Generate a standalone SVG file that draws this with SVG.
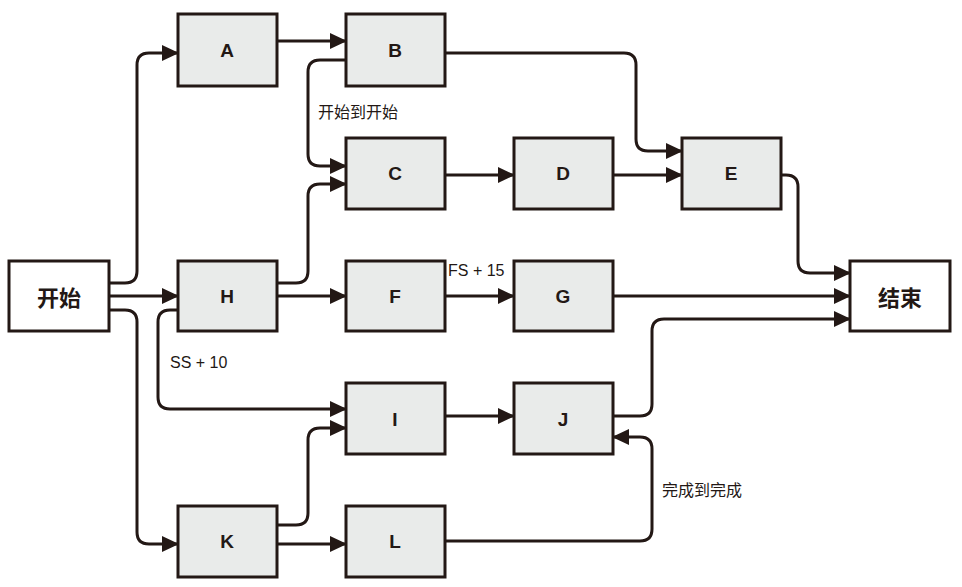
<svg xmlns="http://www.w3.org/2000/svg" width="962" height="587" viewBox="0 0 962 587">
<style>
.n{fill:#e9ebea;stroke:#231815;stroke-width:3}
.w{fill:#fff;stroke:#231815;stroke-width:3}
.t{font-family:"Liberation Sans",Arial,sans-serif;font-weight:bold;font-size:19px;fill:#231815;text-anchor:middle;dominant-baseline:central}
.z{font-family:"Noto Sans CJK SC",sans-serif;font-weight:bold;font-size:22px;fill:#231815;text-anchor:middle;dominant-baseline:central}
.l{font-family:"Liberation Sans","Noto Sans CJK SC",sans-serif;font-size:16px;fill:#231815}
.c path{fill:none;stroke:#231815;stroke-width:3;marker-end:url(#a)}
</style>
<defs><marker id="a" markerUnits="userSpaceOnUse" markerWidth="18" markerHeight="16" refX="16" refY="8" orient="auto"><path d="M0,0L17,8L0,16Z" fill="#231815"/></marker></defs>
<g class="c">
<path d="M109,283H125Q137,283 137,271V65Q137,53 149,53H178"/>
<path d="M109,296H178"/>
<path d="M109,310H125Q137,310 137,322V532Q137,544 149,544H178"/>
<path d="M277,41H346"/>
<path d="M346,60H320Q308,60 308,72V154Q308,166 320,166H346"/>
<path d="M277,283H296Q308,283 308,271V196Q308,184 320,184H346"/>
<path d="M277,296H346"/>
<path d="M178,310H170Q158,310 158,322V397Q158,409 170,409H346"/>
<path d="M445,53H624Q636,53 636,65V139Q636,151 648,151H682"/>
<path d="M445,175H514"/>
<path d="M613,175H682"/>
<path d="M781,175H786Q798,175 798,187V261Q798,273 810,273H850"/>
<path d="M445,296H514"/>
<path d="M613,296H850"/>
<path d="M613,416H640Q652,416 652,404V331Q652,319 664,319H850"/>
<path d="M445,416H514"/>
<path d="M277,525H296Q308,525 308,513V440Q308,428 320,428H346"/>
<path d="M277,544H346"/>
<path d="M445,541H640Q652,541 652,529V449Q652,437 640,437H613"/>
</g>
<g id="start"><rect class="w" x="9" y="261" width="100" height="70"/><text class="z" x="59" y="296">开始</text></g>
<g id="end"><rect class="w" x="850" y="261" width="100" height="70"/><text class="z" x="900" y="296">结束</text></g>
<g id="A"><rect class="n" x="178" y="14" width="99" height="72"/><text class="t" x="227" y="50">A</text></g>
<g id="B"><rect class="n" x="346" y="14" width="99" height="72"/><text class="t" x="395" y="50">B</text></g>
<g id="C"><rect class="n" x="346" y="138" width="99" height="71"/><text class="t" x="395" y="173">C</text></g>
<g id="D"><rect class="n" x="514" y="138" width="99" height="71"/><text class="t" x="563" y="173">D</text></g>
<g id="E"><rect class="n" x="682" y="138" width="99" height="71"/><text class="t" x="731" y="173">E</text></g>
<g id="H"><rect class="n" x="178" y="261" width="99" height="70"/><text class="t" x="227" y="296">H</text></g>
<g id="F"><rect class="n" x="346" y="261" width="99" height="70"/><text class="t" x="395" y="296">F</text></g>
<g id="G"><rect class="n" x="514" y="261" width="99" height="70"/><text class="t" x="563" y="296">G</text></g>
<g id="I"><rect class="n" x="346" y="383" width="99" height="71"/><text class="t" x="395" y="419">I</text></g>
<g id="J"><rect class="n" x="514" y="383" width="99" height="71"/><text class="t" x="563" y="419">J</text></g>
<g id="K"><rect class="n" x="178" y="506" width="99" height="71"/><text class="t" x="227" y="541">K</text></g>
<g id="L"><rect class="n" x="346" y="506" width="99" height="71"/><text class="t" x="395" y="541">L</text></g>
<text class="l" x="318" y="118">开始到开始</text>
<text class="l" x="448" y="276">FS + 15</text>
<text class="l" x="170" y="368">SS + 10</text>
<text class="l" x="662" y="496">完成到完成</text>
</svg>
